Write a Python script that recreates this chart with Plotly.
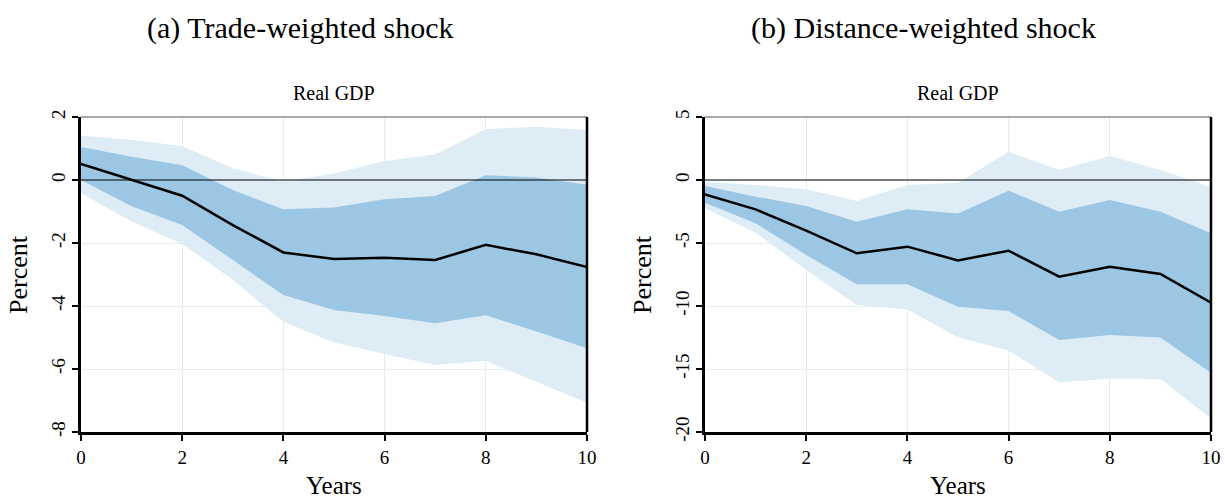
import plotly.graph_objects as go

years = list(range(11))

# Panel (a): Trade-weighted shock
a_mean = [0.51, 0.0, -0.50, -1.43, -2.30, -2.51, -2.47, -2.54, -2.06, -2.36, -2.76]
a_hi68 = [1.05, 0.74, 0.47, -0.32, -0.93, -0.87, -0.61, -0.51, 0.15, 0.08, -0.15]
a_lo68 = [0.0, -0.83, -1.43, -2.54, -3.65, -4.13, -4.32, -4.55, -4.29, -4.81, -5.34]
a_hi90 = [1.41, 1.27, 1.08, 0.37, -0.05, 0.21, 0.60, 0.81, 1.62, 1.69, 1.59]
a_lo90 = [-0.42, -1.32, -2.03, -3.17, -4.50, -5.16, -5.52, -5.87, -5.74, -6.40, -7.07]

# Panel (b): Distance-weighted shock
b_mean = [-1.14, -2.33, -4.02, -5.82, -5.29, -6.38, -5.61, -7.67, -6.88, -7.46, -9.74]
b_hi68 = [-0.48, -1.32, -2.06, -3.31, -2.33, -2.65, -0.85, -2.51, -1.59, -2.51, -4.23]
b_lo68 = [-1.80, -3.44, -5.95, -8.28, -8.28, -10.05, -10.40, -12.70, -12.30, -12.50, -15.29]
b_hi90 = [-0.13, -0.40, -0.74, -1.67, -0.40, -0.21, 2.25, 0.79, 1.90, 0.79, -0.58]
b_lo90 = [-2.25, -4.18, -7.14, -9.92, -10.27, -12.49, -13.54, -16.06, -15.75, -15.80, -18.92]

panel_titles = ["(a) Trade-weighted shock", "(b) Distance-weighted shock"]
sub_title = "Real GDP"
x_title = "Years"
y_title = "Percent"
x_ticks = [0, 2, 4, 6, 8, 10]
a_yticks = [2, 0, -2, -4, -6, -8]
b_yticks = [5, 0, -5, -10, -15, -20]

LIGHT = "#deecf6"
DARK = "#9bc6e4"
GRID = "#e4eef1"
FONT = "Liberation Serif"

fig = go.Figure()

def add_panel(xa, ya, mean, hi68, lo68, hi90, lo90):
    fig.add_trace(go.Scatter(x=years, y=lo90, mode="lines", line=dict(width=0),
                             xaxis=xa, yaxis=ya, showlegend=False, hoverinfo="skip"))
    fig.add_trace(go.Scatter(x=years, y=hi90, mode="lines", line=dict(width=0),
                             fill="tonexty", fillcolor=LIGHT,
                             xaxis=xa, yaxis=ya, showlegend=False, hoverinfo="skip"))
    fig.add_trace(go.Scatter(x=years, y=lo68, mode="lines", line=dict(width=0),
                             xaxis=xa, yaxis=ya, showlegend=False, hoverinfo="skip"))
    fig.add_trace(go.Scatter(x=years, y=hi68, mode="lines", line=dict(width=0),
                             fill="tonexty", fillcolor=DARK,
                             xaxis=xa, yaxis=ya, showlegend=False, hoverinfo="skip"))
    fig.add_trace(go.Scatter(x=[years[0], years[-1]], y=[0, 0], mode="lines",
                             line=dict(color="black", width=1),
                             xaxis=xa, yaxis=ya, showlegend=False, hoverinfo="skip"))
    fig.add_trace(go.Scatter(x=years, y=mean, mode="lines",
                             line=dict(color="black", width=2.5),
                             xaxis=xa, yaxis=ya, showlegend=False))

add_panel("x", "y", a_mean, a_hi68, a_lo68, a_hi90, a_lo90)
add_panel("x2", "y2", b_mean, b_hi68, b_lo68, b_hi90, b_lo90)

W, H = 1225, 500
def px_x(p):
    return p / W
def px_y(p):
    return 1 - p / H

def fmt(v):
    return str(v).replace("\u2212", "-")

common_x = dict(range=[0, 10], tickvals=x_ticks, ticktext=[fmt(v) for v in x_ticks],
                ticks="outside", ticklen=6,
                tickwidth=1.5, tickcolor="black", showline=True, linecolor="black",
                linewidth=2.5, showgrid=True, gridcolor=GRID, gridwidth=1,
                zeroline=False, automargin=False,
                tickfont=dict(family=FONT, size=19, color="black"))
common_y = dict(ticks="outside", ticklen=6, tickwidth=1.5, tickcolor="black",
                showline=True, linecolor="black", linewidth=2.5, showgrid=True,
                gridcolor=GRID, gridwidth=1, zeroline=False, tickangle=-90,
                automargin=False,
                tickfont=dict(family=FONT, size=19, color="black"))

fig.update_layout(
    width=W, height=H,
    template="none",
    margin=dict(l=0, r=0, t=0, b=0, autoexpand=False),
    paper_bgcolor="white", plot_bgcolor="white",
    xaxis=dict(domain=[px_x(81), px_x(587)], anchor="y", **common_x),
    yaxis=dict(domain=[px_y(432), px_y(117)], anchor="x", range=[-8, 2],
               tickvals=a_yticks, ticktext=[fmt(v) for v in a_yticks], **common_y),
    xaxis2=dict(domain=[px_x(705), px_x(1211)], anchor="y2", **common_x),
    yaxis2=dict(domain=[px_y(432), px_y(117)], anchor="x2", range=[-20, 5],
                tickvals=b_yticks, ticktext=[fmt(v) for v in b_yticks], **common_y),
)

# Frame: top (thin) and right (thick) borders
for xr, yr in [("x domain", "y domain"), ("x2 domain", "y2 domain")]:
    fig.add_shape(type="line", xref=xr, yref=yr, x0=0, x1=1, y0=1, y1=1,
                  line=dict(color="#555555", width=1.2))
    fig.add_shape(type="line", xref=xr, yref=yr, x0=1, x1=1, y0=0, y1=1,
                  line=dict(color="black", width=2.5))

# Panel titles
for title, cx in zip(panel_titles, [300, 923]):
    fig.add_annotation(text=title, x=px_x(cx), y=px_y(28), xref="paper", yref="paper",
                       showarrow=False, xanchor="center", yanchor="middle",
                       font=dict(family=FONT, size=30, color="black"))
for cx in [334, 958]:
    fig.add_annotation(text=sub_title, x=px_x(cx), y=px_y(93), xref="paper", yref="paper",
                       showarrow=False, xanchor="center", yanchor="middle",
                       font=dict(family=FONT, size=20, color="black"))
    fig.add_annotation(text=x_title, x=px_x(cx), y=0, xref="paper", yref="paper",
                       showarrow=False, xanchor="center", yanchor="bottom",
                       borderpad=0,
                       font=dict(family=FONT, size=25, color="black"))
for cx in [18, 642]:
    fig.add_annotation(text=y_title, x=px_x(cx), y=px_y(275), xref="paper", yref="paper",
                       showarrow=False, xanchor="center", yanchor="middle", textangle=-90,
                       font=dict(family=FONT, size=26, color="black"))

fig.write_html("out.html")
